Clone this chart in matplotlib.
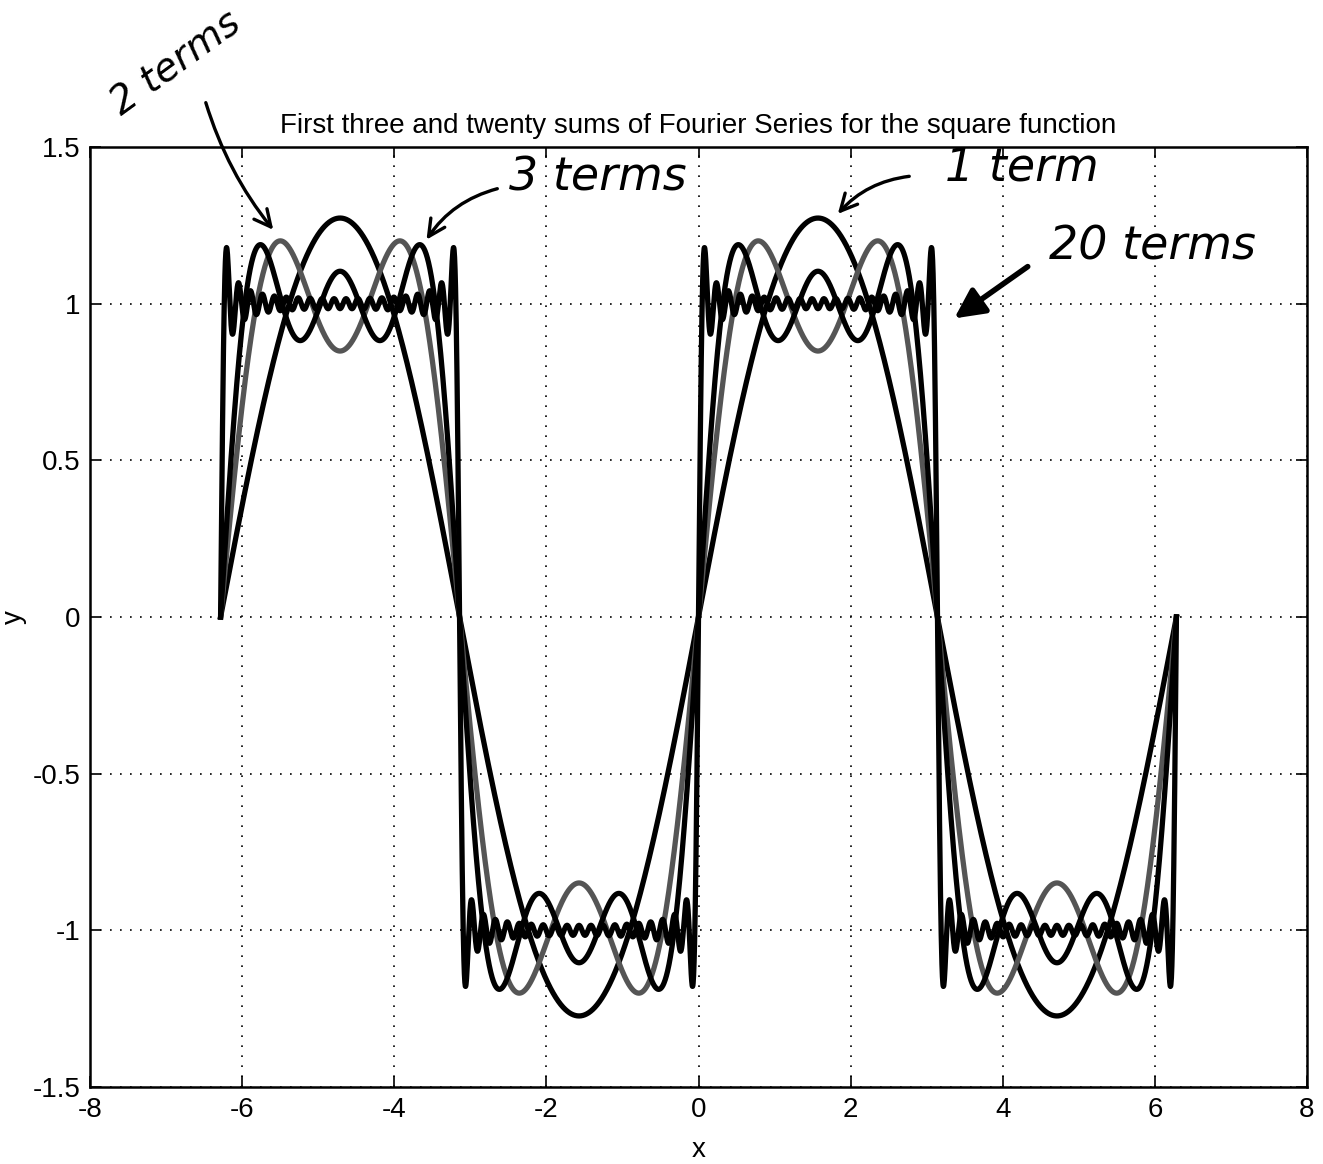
import numpy as np
import matplotlib
matplotlib.use('Agg')
from matplotlib import pyplot as plt

# number of terms in each partial sum drawn
n_terms = [1, 2, 3, 20]
line_colors = ['black', '#555555', 'black', 'black']
x_start, x_end = -2 * np.pi, 2 * np.pi

x_ticks = [-8, -6, -4, -2, 0, 2, 4, 6, 8]
y_ticks = [-1.5, -1, -0.5, 0, 0.5, 1, 1.5]
y_tick_labels = ['-1.5', '-1', '-0.5', '0', '0.5', '1', '1.5']

plt.rcParams['font.family'] = ['Liberation Sans', 'DejaVu Sans']

fig = plt.figure(figsize=(13.23, 11.64), dpi=100)
ax = fig.add_axes([90 / 1323, 1 - 1087 / 1164, (1307 - 90) / 1323, (1087 - 147) / 1164])

x = np.linspace(x_start, x_end, 4000)
for n, c in zip(n_terms, line_colors):
    # square wave partial sum: 4/pi * sum sin((2k-1)x)/(2k-1)
    k = np.arange(1, n + 1)
    y = (4 / np.pi) * np.sum(np.sin(np.outer(2 * k - 1, x)) / (2 * k - 1)[:, None], axis=0)
    ax.plot(x, y, color=c, linewidth=3.8)

ax.set_xlim(-8, 8)
ax.set_ylim(-1.5, 1.5)
ax.set_xticks(x_ticks)
ax.set_xticklabels([str(t) for t in x_ticks])
ax.set_yticks(y_ticks)
ax.set_yticklabels(y_tick_labels)
ax.tick_params(direction='in', length=8, width=1.2, labelsize=20, top=True, right=True)
ax.tick_params(axis='x', pad=7)
ax.tick_params(axis='y', pad=7)
ax.grid(True, linestyle=(0, (1, 5)), color='black', linewidth=1.2)
for s in ax.spines.values():
    s.set_linewidth(1.8)

ax.set_title('First three and twenty sums of Fourier Series for the square function',
             fontsize=20, pad=10)
ax.set_xlabel('x', fontsize=20, labelpad=10)
ax.set_ylabel('y', fontsize=20, labelpad=4)

# handwritten notes
def fp(px, py):
    return (px / 1323, 1 - py / 1164)

hand = dict(fontsize=33, fontstyle='italic', color='black', family=['DejaVu Sans'])
arrow = dict(arrowstyle='->', color='black', lw=2.4, mutation_scale=30,
             connectionstyle='arc3,rad=0.15')

ax.annotate('', xy=fp(275, 232), xytext=fp(205, 100), xycoords='figure fraction',
            textcoords='figure fraction', arrowprops=dict(arrow, connectionstyle='arc3,rad=0.1'))
fig.text(*fp(176, 64), '2 terms', rotation=36, ha='center', va='center',
         fontsize=28, fontstyle='italic', family=['DejaVu Sans'])

ax.annotate('', xy=fp(425, 242), xytext=fp(500, 188), xycoords='figure fraction',
            textcoords='figure fraction', arrowprops=dict(arrow, connectionstyle='arc3,rad=0.2'))
fig.text(*fp(598, 178), '3 terms', ha='center', va='center', **hand)

ax.annotate('', xy=fp(836, 216), xytext=fp(912, 176), xycoords='figure fraction',
            textcoords='figure fraction', arrowprops=dict(arrow, connectionstyle='arc3,rad=0.2'))
fig.text(*fp(1022, 168), '1 term', ha='center', va='center', **hand)

ax.annotate('', xy=fp(952, 320), xytext=fp(1030, 265), xycoords='figure fraction',
            textcoords='figure fraction',
            arrowprops=dict(arrowstyle='-|>', color='black', lw=4, mutation_scale=45))
fig.text(*fp(1152, 247), '20 terms', ha='center', va='center', **hand)

plt.savefig('out.png', dpi=100)
